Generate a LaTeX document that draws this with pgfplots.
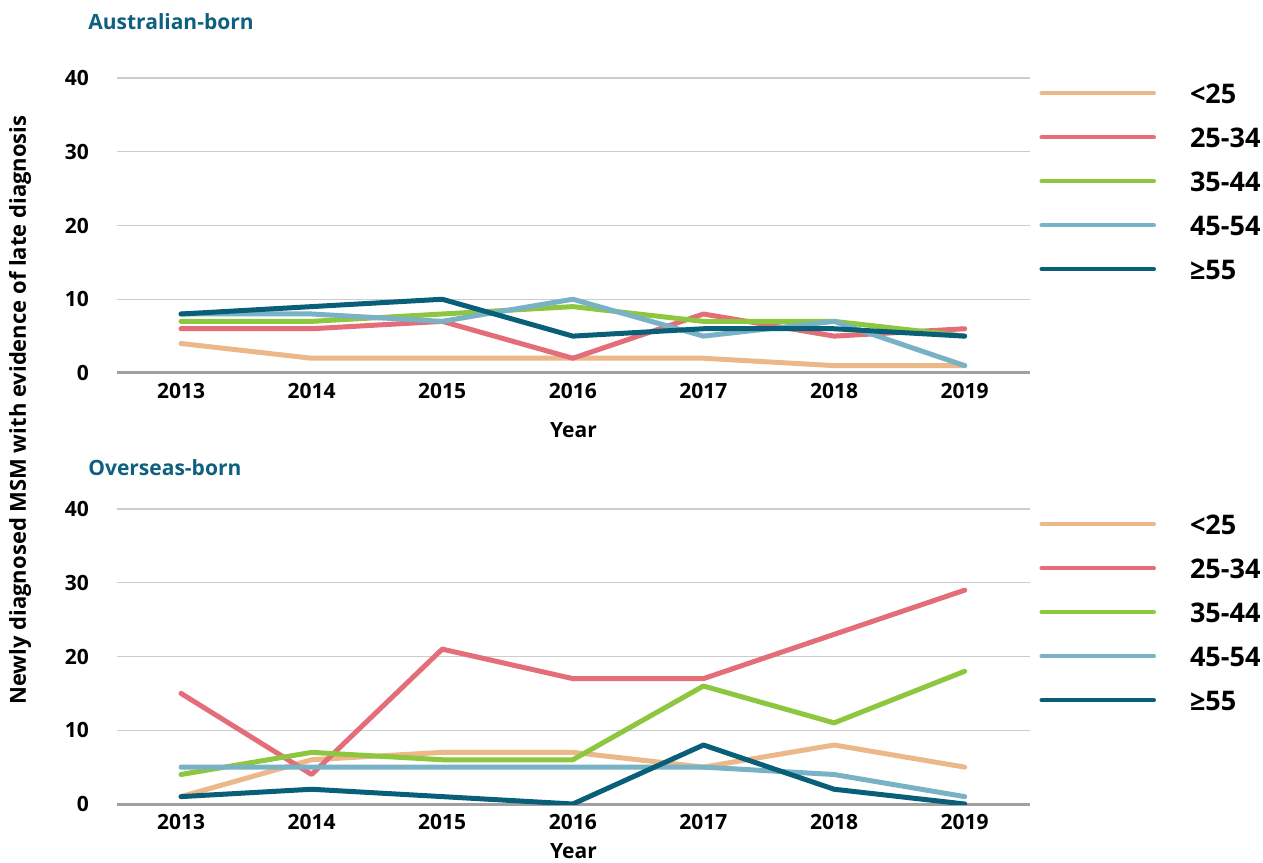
\documentclass[border=0pt]{standalone}
\usepackage{pgfplots}
\pgfplotsset{compat=1.18}
\usepackage{fontspec}
\setmainfont{Open Sans}

\definecolor{cA}{HTML}{ECB88A}
\definecolor{cB}{HTML}{E36D78}
\definecolor{cC}{HTML}{8DC63F}
\definecolor{cD}{HTML}{78B2C4}
\definecolor{cE}{HTML}{0A5F78}
\definecolor{ttl}{HTML}{0E6080}
\definecolor{axgray}{HTML}{A0A0A0}
\definecolor{gridgray}{HTML}{CCCCCC}

\newcommand{\lab}{\fontsize{10.5}{12}\selectfont\bfseries}
\newcommand{\leg}{\fontsize{13.5}{15}\selectfont\bfseries}

\pgfplotsset{
  panel/.style={
    scale only axis, width=456.5pt, height=147.5pt, anchor=south west,
    xmin=2012.51, xmax=2019.5, ymin=0, ymax=40,
    xtick={2013,...,2019}, ytick={0,10,...,40},
    x tick label style={/pgf/number format/1000 sep={}, yshift=-1.5pt},
    y tick label style={xshift=-10.5pt},
    /pgf/number format/assume math mode=true,
    tick label style={font=\lab},
    axis x line=bottom, axis y line=left,
    y axis line style={draw=none},
    x axis line style={-, draw=axgray, line width=1.5pt},
    major tick length=0pt,
    ymajorgrids, grid style={gridgray, line width=0.6pt},
    every axis plot/.append style={line width=2.5pt, line join=round, line cap=round},
    xlabel={Year}, label style={font=\lab},
    every axis title/.style={anchor=base west, font=\lab, text=ttl, inner sep=0pt},
    legend cell align=left,
    legend style={draw=none, fill=none, at={(axis description cs:1.0099,0.984)},
      anchor=north west, inner sep=0pt, row sep=9.4pt,
      nodes={inner sep=0pt, text height=10pt, text depth=0pt, font=\leg},
      /tikz/every odd column/.append style={column sep=17pt}},
    legend image code/.code={
      \path[draw=none, fill=none] (0,-7.6pt) rectangle (56pt,5pt);
      \draw[#1, line width=2.3pt, line cap=round] (0,0) -- (56pt,0);},
  }
}

\begin{document}
\begin{tikzpicture}
\useasboundingbox (0,0) rectangle (631.5pt,431pt);

% Australian-born
\begin{axis}[panel, at={(58.5pt,244.5pt)},
  title={Australian-born},
  title style={at={(axis description cs:-0.0318,1.1627)}},
  xlabel style={at={(axis description cs:0.5,-0.193)}, anchor=center}]
\addplot[cA] coordinates {(2013,4)(2014,2)(2015,2)(2016,2)(2017,2)(2018,1)(2019,1)};
\addlegendentry{<25}
\addplot[cB] coordinates {(2013,6)(2014,6)(2015,7)(2016,2)(2017,8)(2018,5)(2019,6)};
\addlegendentry{25-34}
\addplot[cC] coordinates {(2013,7)(2014,7)(2015,8)(2016,9)(2017,7)(2018,7)(2019,5)};
\addlegendentry{35-44}
\addplot[cD] coordinates {(2013,8)(2014,8)(2015,7)(2016,10)(2017,5)(2018,7)(2019,1)};
\addlegendentry{45-54}
\addplot[cE] coordinates {(2013,8)(2014,9)(2015,10)(2016,5)(2017,6)(2018,6)(2019,5)};
\addlegendentry{≥55}
\end{axis}

% Overseas-born
\begin{axis}[panel, at={(58.5pt,29pt)},
  title={Overseas-born},
  title style={at={(axis description cs:-0.0318,1.112)}},
  xlabel style={at={(axis description cs:0.5,-0.159)}, anchor=center}]
\addplot[cA] coordinates {(2013,1)(2014,6)(2015,7)(2016,7)(2017,5)(2018,8)(2019,5)};
\addlegendentry{<25}
\addplot[cB] coordinates {(2013,15)(2014,4)(2015,21)(2016,17)(2017,17)(2018,23)(2019,29)};
\addlegendentry{25-34}
\addplot[cC] coordinates {(2013,4)(2014,7)(2015,6)(2016,6)(2017,16)(2018,11)(2019,18)};
\addlegendentry{35-44}
\addplot[cD] coordinates {(2013,5)(2014,5)(2015,5)(2016,5)(2017,5)(2018,4)(2019,1)};
\addlegendentry{45-54}
\addplot[cE] coordinates {(2013,1)(2014,2)(2015,1)(2016,0)(2017,8)(2018,2)(2019,0)};
\addlegendentry{≥55}
\end{axis}

\node[rotate=90, font=\fontsize{11}{13}\selectfont\bfseries] at (10pt,226pt) {Newly diagnosed MSM with evidence of late diagnosis};
\end{tikzpicture}
\end{document}
